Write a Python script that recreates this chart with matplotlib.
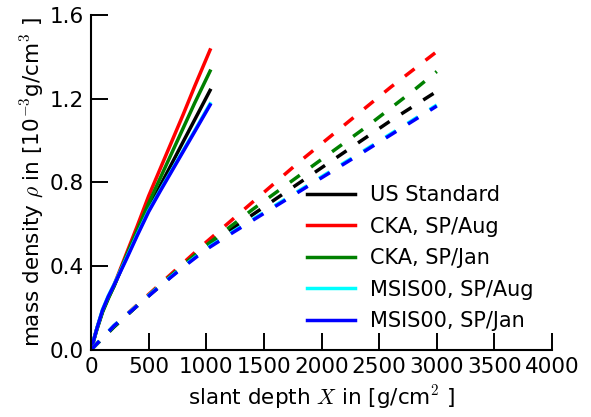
import matplotlib
matplotlib.use("Agg")
import matplotlib.pyplot as plt
import numpy as np

plt.rcParams['mathtext.fontset'] = 'cm'
plt.rcParams['font.size'] = 15.5

# vertical profile (solid) and inclined profile (dashed)
x_vert = [0, 50, 100, 150, 200, 300, 400, 500, 600, 700, 800, 900, 1033]
rho_vert = {
    'US Standard':     [0, 0.10, 0.185, 0.25, 0.305, 0.435, 0.555, 0.675, 0.783, 0.889, 0.995, 1.10, 1.24],
    'CKA, SP/Aug':     [0, 0.10, 0.185, 0.25, 0.31, 0.45, 0.59, 0.735, 0.865, 0.995, 1.125, 1.26, 1.433],
    'CKA, SP/Jan':     [0, 0.095, 0.18, 0.245, 0.305, 0.44, 0.57, 0.70, 0.82, 0.94, 1.06, 1.18, 1.332],
    'MSIS00, SP/Aug':  [0, 0.102, 0.193, 0.258, 0.313, 0.43, 0.55, 0.665, 0.763, 0.858, 0.953, 1.048, 1.176],
    'MSIS00, SP/Jan':  [0, 0.10, 0.19, 0.255, 0.31, 0.425, 0.545, 0.66, 0.758, 0.853, 0.948, 1.043, 1.17],
}

x_slant = [0, 200, 400, 600, 800, 1000, 1200, 1400, 1600, 1800, 2000, 2200, 2400, 2600, 2800, 3000]
rho_slant = {
    'US Standard':     [0, 0.11, 0.21, 0.305, 0.40, 0.49, 0.57, 0.645, 0.72, 0.795, 0.87, 0.945, 1.02, 1.095, 1.165, 1.235],
    'CKA, SP/Aug':     [0, 0.115, 0.215, 0.315, 0.415, 0.515, 0.61, 0.705, 0.80, 0.895, 0.985, 1.075, 1.165, 1.255, 1.34, 1.425],
    'CKA, SP/Jan':     [0, 0.11, 0.21, 0.31, 0.405, 0.50, 0.585, 0.67, 0.75, 0.83, 0.91, 0.99, 1.07, 1.155, 1.24, 1.33],
    'MSIS00, SP/Aug':  [0, 0.117, 0.212, 0.308, 0.398, 0.484, 0.555, 0.623, 0.691, 0.759, 0.827, 0.895, 0.963, 1.032, 1.101, 1.17],
    'MSIS00, SP/Jan':  [0, 0.115, 0.21, 0.305, 0.395, 0.48, 0.55, 0.618, 0.686, 0.754, 0.822, 0.89, 0.958, 1.027, 1.096, 1.165],
}

colors = {
    'US Standard': 'black',
    'CKA, SP/Aug': 'red',
    'CKA, SP/Jan': 'green',
    'MSIS00, SP/Aug': 'cyan',
    'MSIS00, SP/Jan': 'blue',
}

fig = plt.figure(figsize=(5.91, 4.17), dpi=100)
ax = fig.add_axes([0.154, 0.161, 0.78, 0.803])

for name in rho_vert:
    ax.plot(x_vert, rho_vert[name], color=colors[name], lw=2.5, label=name)
for name in rho_slant:
    ax.plot(x_slant, rho_slant[name], color=colors[name], lw=2.5,
            linestyle=(0, (3.5, 4.0)))

ax.set_xlim(0, 4000)
ax.set_ylim(0, 1.6)
ax.set_xticks(np.arange(0, 4001, 500))
ax.set_yticks([0.0, 0.4, 0.8, 1.2, 1.6])
ax.spines['top'].set_visible(False)
ax.spines['right'].set_visible(False)
for s in ['left', 'bottom']:
    ax.spines[s].set_linewidth(1.5)
ax.tick_params(direction='in', length=12, width=1.4, pad=5)

ax.set_xlabel('slant depth $X$ in [g/cm$^2$ ]', labelpad=5)
ax.set_ylabel('mass density $\\rho$ in [10$^{-3}$g/cm$^3$ ]', labelpad=3)

ax.legend(loc='lower right', frameon=False, fontsize=15.0, handlelength=2.3,
          handletextpad=0.72, labelspacing=0.55, bbox_to_anchor=(1.0, 0.0))

fig.savefig('out.png', dpi=100)
